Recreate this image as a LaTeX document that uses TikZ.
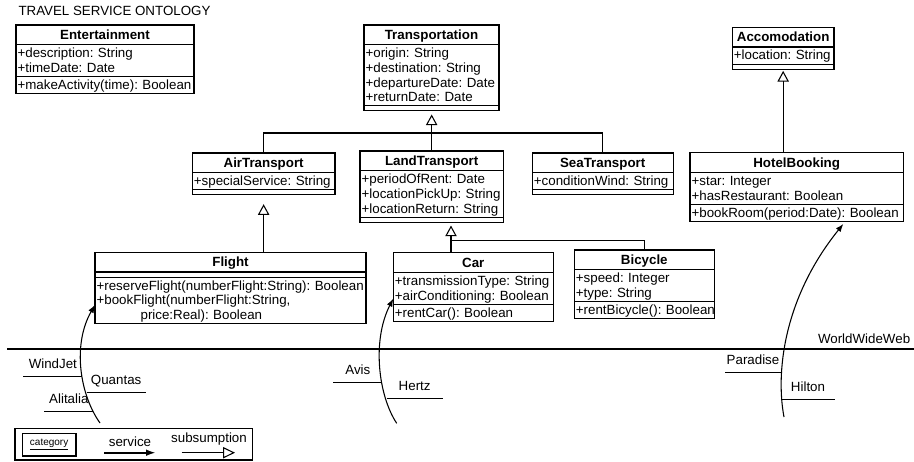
\documentclass[tikz,border=0pt]{standalone}
\usepackage{fontspec}
\setmainfont{Liberation Sans}
\usetikzlibrary{positioning,arrows.meta}

\newcommand{\classname}[1]{\rule[-3pt]{0pt}{13pt}\textbf{#1}}
\newcommand{\member}[1]{\mbox{\rule[-2.2pt]{0pt}{11pt}#1}}
\newcommand{\nomembers}{\rule{0pt}{2pt}}
\newcommand{\umlclass}[6]{%
  \node (#1) [classhead, text width=#3-2.4pt] at (#2) {\classname{#4}};
  \node (#1-attr) [classbody, text width=#3-2.4pt, below=0pt of #1] {#5};
  \node (#1-ops) [classbody, text width=#3-2.4pt, below=0pt of #1-attr] {#6};
}

\tikzset{
  classhead/.style={draw, line width=0.9pt, outer sep=0pt, inner xsep=1.2pt, inner ysep=0.9pt, align=center, anchor=north west},
  classbody/.style={draw, line width=0.9pt, outer sep=0pt, inner xsep=1.2pt, inner ysep=0.9pt},
  subsume/.style={-{Triangle[open,length=8pt,width=8.5pt]}},
  service/.style={-{Latex[length=6pt,width=4.5pt]}},
  svc/.style={anchor=south, text height=7.5pt, text depth=3pt, inner ysep=2.5pt, inner xsep=0pt}
}

\begin{document}
\begin{tikzpicture}[x=0.75pt, y=-0.75pt, line width=0.8pt, font=\fontsize{10}{11}\selectfont\frenchspacing]
  \useasboundingbox (0,0) rectangle (914,461);

  \node (title) [anchor=west, inner sep=0pt] at (18,11) {TRAVEL SERVICE ONTOLOGY};

  \umlclass{ent}{16,25}{133.5pt}{Entertainment}
    {\member{+description: String}\\\member{+timeDate: Date}}
    {\member{+makeActivity(time): Boolean}}
  \umlclass{trans}{364,25}{101.25pt}{Transportation}
    {\member{+origin: String}\\\member{+destination: String}\\\member{+departureDate: Date}\\\member{+returnDate: Date}}
    {\nomembers}
  \umlclass{acc}{732.3,27.3}{76.3pt}{Accomodation}
    {\member{+location: String}}
    {\nomembers}
  \umlclass{air}{192.3,153}{107pt}{AirTransport}
    {\member{+specialService: String}}
    {\nomembers}
  \umlclass{land}{360,151}{107.5pt}{LandTransport}
    {\member{+periodOfRent: Date}\\\member{+locationPickUp: String}\\\member{+locationReturn: String}}
    {\nomembers}
  \umlclass{sea}{532.3,153}{105.6pt}{SeaTransport}
    {\member{+conditionWind: String}}
    {\nomembers}
  \umlclass{hotel}{690,152.7}{160pt}{HotelBooking}
    {\member{+star: Integer}\\\member{+hasRestaurant: Boolean}}
    {\member{+bookRoom(period:Date): Boolean}}
  \umlclass{flight}{95,252.3}{203.25pt}{Flight}
    {\nomembers}
    {\member{+reserveFlight(numberFlight:String): Boolean}\\\member{+bookFlight(numberFlight:String,}\\\member{\hspace*{33pt}price:Real): Boolean}}
  \umlclass{car}{393.3,252.7}{120pt}{Car}
    {\member{+transmissionType: String}\\\member{+airConditioning: Boolean}}
    {\member{+rentCar(): Boolean}}
  \umlclass{bike}{574.3,250}{105pt}{Bicycle}
    {\member{+speed: Integer}\\\member{+type: String}}
    {\member{+rentBicycle(): Boolean}}

  \coordinate (transjoin) at (431.7,133);
  \coordinate (landjoin) at (451,240.7);
  \draw[subsume, shorten >=2.7pt] (land.north) -- (land.north |- trans-ops.south);
  \draw (air.north) |- (transjoin) -| (sea.north);
  \draw[subsume, shorten >=7pt] (flight.north -| air-ops.south) -- (air-ops.south);
  \draw[subsume, shorten >=2.5pt] (car.north -| landjoin) -- (land-ops.south -| landjoin);
  \draw (landjoin) -| (bike.north);
  \draw[subsume, shorten >=1.3pt] (hotel.north -| acc-ops.south) -- (acc-ops.south);

  \coordinate (webwest) at (7,349);
  \coordinate (webeast) at (914,349);
  \draw[line width=2pt] (webwest) -- (webeast);
  \node (web) [anchor=base east, inner sep=0pt] at (910.7,343) {WorldWideWeb};

  \node (windjet) [svc, minimum width=43.3pt] at (52.85,376.7) {WindJet};
  \node (quantas) [svc, minimum width=43.3pt] at (116.15,392.3) {Quantas};
  \node (alitalia) [svc, minimum width=35.8pt] at (68.85,411.7) {Alitalia};
  \node (avis) [svc, minimum width=35.8pt] at (357.85,382.3) {Avis};
  \node (hertz) [svc, minimum width=41pt] at (414.65,398.4) {Hertz};
  \node (paradise) [svc, minimum width=40.5pt] at (753,372.7) {Paradise};
  \node (hilton) [svc, minimum width=39.5pt] at (808,399.3) {Hilton};
  \draw (windjet.south west) -- (windjet.south east);
  \draw (quantas.south west) -- (quantas.south east);
  \draw (alitalia.south west) -- (alitalia.south east);
  \draw (avis.south west) -- (avis.south east);
  \draw (hertz.south west) -- (hertz.south east);
  \draw (paradise.south west) -- (paradise.south east);
  \draw (hilton.south west) -- (hilton.south east);

  \coordinate (airfoot) at (100,423);
  \coordinate (carfoot) at (396.7,423.3);
  \coordinate (hotelfoot) at (784,417);
  \draw[service] (airfoot) .. controls (80,395) and (72,345) .. ([yshift=14pt]flight-ops.south west);
  \draw[service] (carfoot) .. controls (378,395) and (372,340) .. ([yshift=17pt]car-ops.south west);
  \draw[service] (hotelfoot) .. controls (776,375) and (782,300) .. ([xshift=35pt,yshift=-2pt]hotel-ops.south);

  \node (legend) [draw, line width=1pt, minimum width=178pt, minimum height=23.8pt] at (133.65,444.15) {};
  \node (category) [draw, minimum width=40.3pt, minimum height=17pt, font=\fontsize{7.5}{9}\selectfont] at (49.15,444.65) {\underline{category}};
  \node (servicetxt) at (130,441.7) {service};
  \node (subsumptiontxt) at (209,439.3) {subsumption};
  \coordinate (svcfrom) at (104.3,452.7);
  \coordinate (svcto) at (156,452.7);
  \coordinate (subfrom) at (181.7,452.7);
  \coordinate (subto) at (235,452.7);
  \draw[-{Latex[length=7.5pt,width=5pt]}, line width=1.6pt] (svcfrom) -- (svcto);
  \draw[-{Triangle[open,length=9pt,width=8.5pt]}] (subfrom) -- (subto);
\end{tikzpicture}
\end{document}
